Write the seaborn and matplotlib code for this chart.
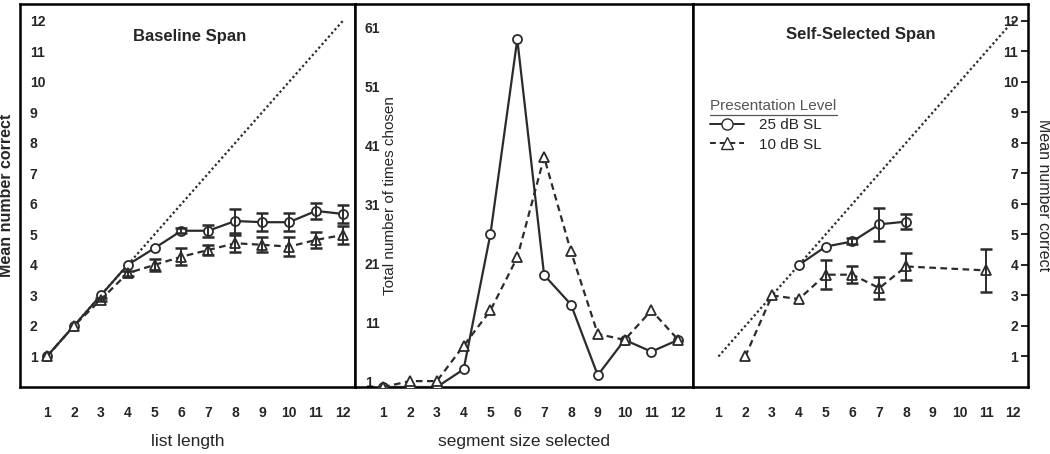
import pandas as pd
import seaborn as sns
import matplotlib.pyplot as plt
from matplotlib.lines import Line2D

# values
list_len = [1, 2, 3, 4, 5, 6, 7, 8, 9, 10, 11, 12]
base_25 = [1.0, 2.0, 3.0, 4.0, 4.55, 5.12, 5.12, 5.44, 5.40, 5.40, 5.77, 5.67]
base_25_err = [0, 0, 0, 0, 0, 0.08, 0.2, 0.4, 0.3, 0.3, 0.26, 0.31]
base_10 = [1.0, 2.0, 2.86, 3.73, 4.0, 4.27, 4.49, 4.71, 4.66, 4.60, 4.82, 4.98]
base_10_err = [0, 0, 0.05, 0.08, 0.2, 0.27, 0.17, 0.27, 0.25, 0.3, 0.25, 0.3]

seg_size = [1, 2, 3, 4, 5, 6, 7, 8, 9, 10, 11, 12]
chosen_25 = [0, 0, 0, 3, 26, 59, 19, 14, 2, 8, 6, 8]
chosen_10 = [0, 1, 1, 7, 13, 22, 39, 23, 9, 8, 13, 8]

self_25_x = [4, 5, 6, 7, 8]
self_25 = [4.0, 4.6, 4.77, 5.33, 5.42]
self_25_err = [0, 0, 0.1, 0.53, 0.25]
self_10_x = [2, 3, 4, 5, 6, 7, 8, 11]
self_10 = [1.0, 3.0, 2.88, 3.68, 3.68, 3.24, 3.95, 3.82]
self_10_err = [0, 0, 0, 0.48, 0.27, 0.37, 0.45, 0.71]

levels = ["25 dB SL", "10 dB SL"]
span_ticks = list(range(1, 13))
chosen_ticks = [1, 11, 21, 31, 41, 51, 61]

INK = "#2b2b2b"
NARROW = ["Liberation Sans Narrow", "Liberation Sans", "DejaVu Sans"]
WIDE = ["Liberation Sans", "DejaVu Sans"]

sns.set_style("white")
plt.rcParams["font.family"] = NARROW


def draw_series(ax, x25, y25, x10, y10):
    df = pd.DataFrame({
        "x": list(x25) + list(x10),
        "y": list(y25) + list(y10),
        "level": [levels[0]] * len(x25) + [levels[1]] * len(x10),
    })
    sns.lineplot(data=df, x="x", y="y", style="level", style_order=levels,
                 markers={levels[0]: "o", levels[1]: "^"},
                 dashes={levels[0]: "", levels[1]: (3, 2)},
                 estimator=None, errorbar=None, color=INK, lw=1.6,
                 ms=6.5, mfc="white", mec=INK, mew=1.3, legend=False, ax=ax,
                 zorder=3)


def add_errbars(ax, x, y, err):
    keep = [i for i, e in enumerate(err) if e > 0]
    ax.errorbar([x[i] for i in keep], [y[i] for i in keep],
                yerr=[err[i] for i in keep], fmt="none", ecolor=INK,
                elinewidth=1.4, capsize=4, capthick=1.8, zorder=4)


def style_axes(ax, xlim, ylim, yticks, side="left"):
    ax.set_xlim(*xlim)
    ax.set_ylim(*ylim)
    ax.set_xticks(span_ticks)
    ax.set_yticks(yticks)
    for s in ax.spines.values():
        s.set_visible(True)
        s.set_linewidth(1.8)
        s.set_color("black")
    ax.tick_params(axis="x", direction="out", length=5, width=1.4, pad=9,
                   labelsize=10)
    if side == "right":
        ax.yaxis.tick_right()
    ax.tick_params(axis="y", direction="in", length=5, width=1.4, pad=-7,
                   labelsize=10)
    for lab in ax.get_xticklabels() + ax.get_yticklabels():
        lab.set_fontweight("bold")
    plt.setp(ax.get_yticklabels(), ha="right" if side == "right" else "left")
    ax.set_xlabel("")
    ax.set_ylabel("")


fig = plt.figure(figsize=(10.5, 4.54), dpi=100)
bottom, height = 1 - 387 / 454, (387 - 4) / 454
ax1 = fig.add_axes([20 / 1050, bottom, 335 / 1050, height])
ax2 = fig.add_axes([355 / 1050, bottom, 338 / 1050, height])
ax3 = fig.add_axes([693 / 1050, bottom, 335 / 1050, height])

# Baseline span
ax1.plot(list_len, list_len, ls=(0, (1, 1.2)), color=INK, lw=1.6, zorder=2)
draw_series(ax1, list_len, base_25, list_len, base_10)
add_errbars(ax1, list_len, base_25, base_25_err)
add_errbars(ax1, list_len, base_10, base_10_err)
style_axes(ax1, (0, 12.45), (0, 12.55), span_ticks)
ax1.text(0.505, 0.915, "Baseline Span", transform=ax1.transAxes, ha="center",
         va="center", fontsize=12, fontweight="bold", family=WIDE)
ax1.set_xlabel("list length", fontsize=12.5, labelpad=10)
ax1.set_ylabel("Mean number correct", fontsize=11.5, fontweight="bold",
               va="center")
ax1.yaxis.set_label_coords(-0.04, 0.5)

# number of times each segment size was chosen
draw_series(ax2, seg_size, chosen_25, seg_size, chosen_10)
style_axes(ax2, (-0.05, 12.55), (0, 65), chosen_ticks)
ax2.set_xlabel("segment size selected", fontsize=12.5, labelpad=10)
ax2.set_ylabel("Total number of times chosen", fontsize=11, va="center")
ax2.yaxis.set_label_coords(0.105, 0.5)

# Self-selected span
ax3.plot(list_len, list_len, ls=(0, (1, 1.2)), color=INK, lw=1.6, zorder=2)
draw_series(ax3, self_25_x, self_25, self_10_x, self_10)
add_errbars(ax3, self_25_x, self_25, self_25_err)
add_errbars(ax3, self_10_x, self_10, self_10_err)
style_axes(ax3, (0.05, 12.55), (0, 12.55), span_ticks, side="right")
ax3.text(0.5, 0.92, "Self-Selected Span", transform=ax3.transAxes,
         ha="center", va="center", fontsize=12, fontweight="bold", family=WIDE)
ax3.yaxis.set_label_position("right")
ax3.set_ylabel("Mean number correct", fontsize=11.5, rotation=270,
               va="center")
ax3.yaxis.set_label_coords(1.045, 0.5)

handles = [
    Line2D([], [], color=INK, lw=1.4, marker="o", ms=8, mfc="white", mec=INK),
    Line2D([], [], color=INK, lw=1.4, ls=(0, (3, 2)), marker="^", ms=9,
           mfc="white", mec=INK),
]
leg = ax3.legend(handles, levels, title="Presentation Level", loc="upper left",
                 bbox_to_anchor=(0.02, 0.78), frameon=False, fontsize=11,
                 title_fontsize=11, handlelength=2.2, handletextpad=1.0,
                 labelspacing=0.35, alignment="left", borderpad=0.2)
leg.get_title().set_color("#555555")

# underline the legend title
fig.canvas.draw()
bb = leg.get_title().get_window_extent().transformed(fig.transFigure.inverted())
fig.add_artist(Line2D([bb.x0, bb.x1], [bb.y0 - 0.004, bb.y0 - 0.004],
                      color="#555555", lw=0.9))

fig.savefig("out.png", dpi=100)
